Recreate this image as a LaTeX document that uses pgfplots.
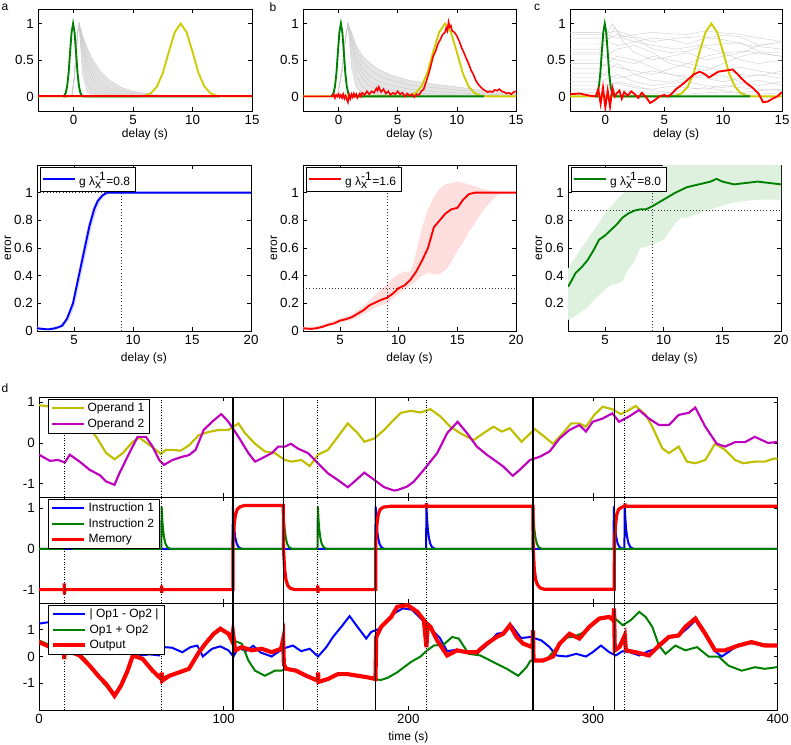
\documentclass[border=0pt]{standalone}
\usepackage{fontspec}
\setmainfont{Liberation Sans}
\usepackage{pgfplots}
\pgfplotsset{compat=1.18}
\definecolor{mblue}{rgb}{0,0,1}
\definecolor{mgreen}{rgb}{0,0.5,0}
\definecolor{mred}{rgb}{1,0,0}
\definecolor{myel}{rgb}{0.8,0.8,0}
\definecolor{mol}{rgb}{0.75,0.75,0}
\definecolor{mpur}{rgb}{0.75,0,0.75}
\definecolor{mgrey}{rgb}{0.8,0.8,0.8}
\definecolor{mgreyfill}{rgb}{0.9,0.9,0.9}
\definecolor{bandb}{rgb}{0.85,0.85,1}
\definecolor{bandr}{rgb}{1,0.87,0.87}
\definecolor{bandg}{rgb}{0.87,0.94,0.87}
\pgfplotsset{
  mstyle/.style={scale only axis, anchor=south west, tick align=inside, major tick length=3pt,
    /pgf/number format/assume math mode=true,
    tick label style={font=\fontsize{10}{12}\selectfont},
    tick style={black,line width=0.4pt}, axis line style={line width=0.5pt},
    legend cell align=left,
    legend style={at={(0.012,0.985)},anchor=north west,draw=black,fill=white,inner xsep=2pt,inner ysep=1pt},
    legend image code/.code={\draw[##1] (0pt,0pt) -- (24pt,0pt);}},
  gl/.style={mgrey, line width=0.3pt, forget plot},
  dl/.style={black!80, line width=0.6pt, dash pattern=on 0.6pt off 1.8pt, forget plot},
  vs/.style={black, line width=0.9pt, forget plot},
  vd/.style={black, line width=0.7pt, dash pattern=on 0.7pt off 1.2pt, forget plot},
}
\newcommand{\vlines}[2]{%
  \addplot[vs] coordinates {(105,#1)(105,#2)};
  \addplot[vs] coordinates {(132.3,#1)(132.3,#2)};
  \addplot[vs] coordinates {(182.3,#1)(182.3,#2)};
  \addplot[vs] coordinates {(267.5,#1)(267.5,#2)};
  \addplot[vs] coordinates {(311.5,#1)(311.5,#2)};
  \addplot[vd] coordinates {(13.7,#1)(13.7,#2)};
  \addplot[vd] coordinates {(66.4,#1)(66.4,#2)};
  \addplot[vd] coordinates {(151,#1)(151,#2)};
  \addplot[vd] coordinates {(209.8,#1)(209.8,#2)};
  \addplot[vd] coordinates {(317.2,#1)(317.2,#2)};
}
\begin{document}
\fontsize{9}{10.8}\selectfont
\begin{tikzpicture}
\path[use as bounding box] (0,0) rectangle (593.25pt,558pt);
\node at (3.75pt,552.75pt) {a};
\node at (204.75pt,552.75pt) {b};
\node at (402.75pt,552.75pt) {c};
\node at (3.75pt,267pt) {d};

% ---------------- top row a
\begin{axis}[mstyle, at={(28.5pt,474.75pt)}, width=160.5pt, height=76.5pt,
  xmin=-3,xmax=15,ymin=-0.2,ymax=1.2, xtick={0,5,10,15}, ytick={0,0.5,1}, xlabel={delay (s)}, xlabel style={yshift=3pt}]
\addplot[fill=mgreyfill, draw=none, forget plot] coordinates {(-0.15,0)(0.05,0.25)(0.2,0.6)(0.35,0.9)(0.45,1)(0.75,0.84)(1.15,0.66)(1.65,0.49)(2.25,0.35)(2.95,0.23)(3.95,0.128)(4.95,0.071)(6.45,0.029)(7.95,0.012)(9,0)(2.25,0)(1.65,0.008)(1.15,0.06)(0.75,0.3)(0.45,1)};
\addplot[gl] coordinates {(-3,0)(-0.15,0)(0.05,0.25)(0.2,0.6)(0.35,0.9)(0.45,1)(0.75,0.3)(1.15,0.06)(1.65,0.008)(2.25,0)(15,0)};
\addplot[gl] coordinates {(-0.15,0)(0.05,0.25)(0.2,0.6)(0.35,0.9)(0.45,1)(0.75,0.47)(1.15,0.17)(1.65,0.05)(2.25,0.011)(2.95,0.002)(3.95,0)};
\addplot[gl] coordinates {(-0.15,0)(0.05,0.25)(0.2,0.6)(0.35,0.9)(0.45,1)(0.75,0.58)(1.15,0.28)(1.65,0.11)(2.25,0.038)(2.95,0.011)(3.95,0.002)(4.95,0)};
\addplot[gl] coordinates {(-0.15,0)(0.05,0.25)(0.2,0.6)(0.35,0.9)(0.45,1)(0.75,0.65)(1.15,0.37)(1.65,0.18)(2.25,0.076)(2.95,0.028)(3.95,0.007)(4.95,0.002)(6.45,0)};
\addplot[gl] coordinates {(-0.15,0)(0.05,0.25)(0.2,0.6)(0.35,0.9)(0.45,1)(0.75,0.70)(1.15,0.44)(1.65,0.24)(2.25,0.12)(2.95,0.053)(3.95,0.016)(4.95,0.005)(6.45,0)};
\addplot[gl] coordinates {(-0.15,0)(0.05,0.25)(0.2,0.6)(0.35,0.9)(0.45,1)(0.75,0.74)(1.15,0.50)(1.65,0.30)(2.25,0.165)(2.95,0.082)(3.95,0.03)(4.95,0.011)(6.45,0.002)(7.95,0)};
\addplot[gl] coordinates {(-0.15,0)(0.05,0.25)(0.2,0.6)(0.35,0.9)(0.45,1)(0.75,0.78)(1.15,0.56)(1.65,0.37)(2.25,0.22)(2.95,0.125)(3.95,0.054)(4.95,0.024)(6.45,0.007)(7.95,0.002)(9,0)};
\addplot[gl] coordinates {(-0.15,0)(0.05,0.25)(0.2,0.6)(0.35,0.9)(0.45,1)(0.75,0.81)(1.15,0.62)(1.65,0.44)(2.25,0.29)(2.95,0.18)(3.95,0.089)(4.95,0.045)(6.45,0.016)(7.95,0.006)(9,0)};
\addplot[gl] coordinates {(-0.15,0)(0.05,0.25)(0.2,0.6)(0.35,0.9)(0.45,1)(0.75,0.84)(1.15,0.66)(1.65,0.49)(2.25,0.35)(2.95,0.23)(3.95,0.128)(4.95,0.071)(6.45,0.029)(7.95,0.012)(9,0)};
\addplot[myel, line width=1.4pt] coordinates {(-3,0)(5.5,0)(6,0.011)(6.5,0.044)(7,0.135)(7.5,0.32)(8,0.61)(8.5,0.88)(9,1)(9.5,0.88)(10,0.61)(10.5,0.32)(11,0.135)(11.5,0.044)(12,0.011)(12.5,0)(15,0)};
\addplot[mgreen, line width=1.4pt] coordinates {(-0.6,0)(-0.8,0)(-0.8,0.011)(-0.675,0.044)(-0.55,0.135)(-0.425,0.32)(-0.3,0.61)(-0.175,0.88)(-0.05,1)(0.075,0.88)(0.2,0.61)(0.325,0.32)(0.45,0.135)(0.575,0.044)(0.7,0.011)(0.8,0)(12.3,0)};
\addplot[mred, line width=1.4pt] coordinates {(-3,0)(15,0)};
\end{axis}

% ---------------- top row b
\begin{axis}[mstyle, at={(227.25pt,474.75pt)}, width=159.75pt, height=76.5pt,
  xmin=-3,xmax=15,ymin=-0.2,ymax=1.2, xtick={0,5,10,15}, ytick={0,0.5,1}, xlabel={delay (s)}, xlabel style={yshift=3pt}]
\addplot[fill=mgreyfill, draw=none, forget plot] coordinates {(-0.1,0)(0.3,0.35)(0.55,0.75)(0.8,1)(1.1,0.88)(1.5,0.7)(2,0.56)(2.7,0.45)(3.5,0.36)(4.5,0.29)(6,0.22)(8,0.17)(10,0.13)(12.5,0.08)(15,0.04)(15,0)(2.7,0.0)(2,0.04)(1.5,0.12)(1.1,0.4)(0.8,1)};
\addplot[gl] coordinates {(-3,0)(-0.1,0)(0.3,0.35)(0.55,0.75)(0.8,1)(1.1,0.4)(1.5,0.12)(2,0.04)(2.7,0.01)(3.5,0)(15,0)};
\addplot[gl] coordinates {(-0.1,0)(0.3,0.35)(0.55,0.75)(0.8,1)(1.1,0.6)(1.5,0.3)(2,0.14)(2.7,0.06)(3.5,0.03)(4.5,0.015)(6,0.005)(8,0)};
\addplot[gl] coordinates {(-0.1,0)(0.3,0.35)(0.55,0.75)(0.8,1)(1.1,0.7)(1.5,0.42)(2,0.25)(2.7,0.14)(3.5,0.08)(4.5,0.05)(6,0.03)(8,0.015)(10,0.01)(12.5,0.005)(15,0)};
\addplot[gl] coordinates {(-0.1,0)(0.3,0.35)(0.55,0.75)(0.8,1)(1.1,0.76)(1.5,0.5)(2,0.32)(2.7,0.2)(3.5,0.13)(4.5,0.09)(6,0.055)(8,0.035)(10,0.02)(12.5,0.012)(15,0.006)};
\addplot[gl] coordinates {(-0.1,0)(0.3,0.35)(0.55,0.75)(0.8,1)(1.1,0.8)(1.5,0.56)(2,0.39)(2.7,0.27)(3.5,0.2)(4.5,0.15)(6,0.1)(8,0.07)(10,0.05)(12.5,0.03)(15,0.015)};
\addplot[gl] coordinates {(-0.1,0)(0.3,0.35)(0.55,0.75)(0.8,1)(1.1,0.85)(1.5,0.64)(2,0.48)(2.7,0.36)(3.5,0.28)(4.5,0.22)(6,0.16)(8,0.12)(10,0.09)(12.5,0.055)(15,0.03)};
\addplot[gl] coordinates {(-0.1,0)(0.3,0.35)(0.55,0.75)(0.8,1)(1.1,0.88)(1.5,0.7)(2,0.56)(2.7,0.45)(3.5,0.36)(4.5,0.29)(6,0.22)(8,0.17)(10,0.13)(12.5,0.08)(15,0.04)};
\addplot[myel, line width=1.4pt] coordinates {(-3,0)(5.5,0)(6,0.011)(6.5,0.044)(7,0.135)(7.5,0.32)(8,0.61)(8.5,0.88)(9,1)(9.5,0.88)(10,0.61)(10.5,0.32)(11,0.135)(11.5,0.044)(12,0.011)(12.5,0)(15,0)};
\addplot[mgreen, line width=1.4pt] coordinates {(-0.6,0)(-0.55,0.011)(-0.425,0.044)(-0.3,0.135)(-0.175,0.32)(-0.05,0.61)(0.075,0.88)(0.2,1)(0.325,0.88)(0.45,0.61)(0.575,0.32)(0.7,0.135)(0.825,0.044)(0.95,0.011)(1.05,0)(12.3,0)};
\addplot[mred, line width=1.2pt] coordinates {(-3,0)(-0.5,0)(-0.4,0.03)(-0.3,-0.02)(-0.2,0.02)(-0.1,0.0)(0,0.03)(0.1,-0.01)(0.2,0.02)(0.3,-0.02)(0.4,0.03)(0.5,-0.03)(0.6,0.01)(0.7,-0.04)(0.8,-0.08)(0.9,0.02)(1.0,-0.03)(1.1,0.03)(1.2,-0.01)(1.3,0.04)(1.4,0.0)(1.5,0.03)(1.6,-0.02)(1.8,0.04)(1.9,0.0)(2.0,0.05)(2.2,0.02)(2.4,0.07)(2.6,0.03)(2.8,0.07)(3.0,0.05)(3.2,0.11)(3.3,0.08)(3.4,0.13)(3.6,0.06)(3.8,0.1)(4.0,0.04)(4.2,0.07)(4.4,0.02)(4.6,0.05)(4.8,0.03)(5.0,0.07)(5.2,0.03)(5.4,0.05)(5.6,0.0)(5.8,0.04)(6.0,0.01)(6.2,0.03)(6.4,-0.01)(6.6,0.03)(6.8,0.02)(7.0,0.07)(7.2,0.1)(7.4,0.2)(7.6,0.3)(7.8,0.42)(8.0,0.55)(8.2,0.62)(8.4,0.72)(8.6,0.78)(8.8,0.85)(9.0,0.88)(9.1,0.94)(9.2,0.9)(9.3,1.02)(9.4,0.95)(9.5,0.97)(9.6,0.9)(9.8,0.88)(10.0,0.83)(10.2,0.76)(10.4,0.67)(10.6,0.6)(10.8,0.52)(11.0,0.45)(11.2,0.36)(11.4,0.3)(11.6,0.22)(11.8,0.17)(12.0,0.13)(12.2,0.1)(12.4,0.08)(12.6,0.06)(12.8,0.07)(13.0,0.06)(13.2,0.09)(13.4,0.08)(13.6,0.1)(13.8,0.07)(14.0,0.06)(14.2,0.04)(14.4,0.05)(14.6,0.03)(14.8,0.06)(15,0.07)};
\end{axis}

% ---------------- top row c
\begin{axis}[mstyle, at={(427.5pt,474.75pt)}, width=159pt, height=76.5pt,
  xmin=-3,xmax=15,ymin=-0.2,ymax=1.2, xtick={0,5,10,15}, ytick={0,0.5,1}, xlabel={delay (s)}, xlabel style={yshift=3pt}]
\addplot[gl] coordinates {(-3,0.88)(-0.5,0.88)(1,0.8)(2.5,0.85)(4,0.88)(5.5,0.86)(7,0.85)(8.5,0.9)(10,0.87)(11.5,0.85)(13,0.8)(14,0.78)(15,0.75)};
\addplot[gl] coordinates {(-3,0.8)(-0.5,0.8)(1,0.7)(2.5,0.75)(4,0.8)(5.5,0.78)(7,0.72)(8.5,0.8)(10,0.84)(11.5,0.82)(13,0.7)(14,0.72)(15,0.72)};
\addplot[gl] coordinates {(-3,0.72)(-0.5,0.72)(1,0.85)(2.5,0.8)(4,0.65)(5.5,0.6)(7,0.62)(8.5,0.7)(10,0.72)(11.5,0.74)(13,0.62)(14,0.6)(15,0.6)};
\addplot[gl] coordinates {(-3,0.65)(-0.5,0.65)(0.6,1)(1.5,0.75)(2.5,0.6)(4,0.5)(5.5,0.55)(7,0.6)(8.5,0.5)(10,0.55)(11.5,0.6)(13,0.7)(15,0.75)};
\addplot[gl] coordinates {(-3,0.58)(-0.5,0.58)(1,0.5)(2.5,0.45)(4,0.55)(5.5,0.5)(7,0.45)(8.5,0.55)(10,0.6)(11.5,0.5)(13,0.45)(15,0.5)};
\addplot[gl] coordinates {(-3,0.5)(-0.5,0.5)(1,0.65)(2.5,0.7)(4,0.6)(5.5,0.45)(7,0.4)(8.5,0.35)(10,0.45)(11.5,0.55)(13,0.6)(15,0.55)};
\addplot[gl] coordinates {(-3,0.45)(-0.5,0.45)(1,0.4)(2.5,0.35)(4,0.3)(5.5,0.38)(7,0.45)(8.5,0.4)(10,0.35)(11.5,0.4)(13,0.35)(15,0.3)};
\addplot[gl] coordinates {(-3,0.38)(-0.5,0.38)(1,0.55)(2.5,0.5)(4,0.4)(5.5,0.3)(7,0.25)(8.5,0.3)(10,0.35)(11.5,0.3)(13,0.28)(15,0.35)};
\addplot[gl] coordinates {(-3,0.32)(-0.5,0.32)(1,0.25)(2.5,0.3)(4,0.35)(5.5,0.3)(7,0.28)(8.5,0.25)(10,0.2)(11.5,0.25)(13,0.3)(15,0.25)};
\addplot[gl] coordinates {(-3,0.26)(-0.5,0.26)(1,0.45)(2.5,0.3)(4,0.22)(5.5,0.2)(7,0.25)(8.5,0.3)(10,0.28)(11.5,0.2)(13,0.15)(15,0.2)};
\addplot[gl] coordinates {(-3,0.2)(-0.5,0.2)(1,0.3)(2.5,0.2)(4,0.15)(5.5,0.18)(7,0.2)(8.5,0.15)(10,0.12)(11.5,0.18)(13,0.22)(15,0.15)};
\addplot[gl] coordinates {(-3,0.15)(-0.5,0.15)(1,0.18)(2.5,0.12)(4,0.1)(5.5,0.14)(7,0.12)(8.5,0.1)(10,0.15)(11.5,0.12)(13,0.1)(15,0.08)};
\addplot[gl] coordinates {(-3,0.1)(-0.5,0.1)(1,0.2)(2.5,0.15)(4,0.08)(5.5,0.05)(7,0.1)(8.5,0.12)(10,0.08)(11.5,0.05)(13,0.08)(15,0.1)};
\addplot[gl] coordinates {(-3,0.05)(-0.5,0.05)(1,0.1)(2.5,0.06)(4,0.04)(5.5,0.05)(7,0.03)(8.5,0.05)(10,0.06)(11.5,0.04)(13,0.03)(15,0.05)};
\addplot[gl] coordinates {(-3,0.6)(-0.5,0.6)(0.3,0.8)(0.8,0.95)(1.5,0.8)(2.5,0.75)(4,0.7)(6,0.65)(8,0.7)(10,0.6)(12,0.62)(15,0.55)};
\addplot[gl] coordinates {(-3,0.85)(-0.5,0.85)(1,0.9)(2.5,0.82)(4,0.75)(6,0.8)(8,0.82)(10,0.78)(12,0.7)(15,0.65)};
\addplot[myel, line width=1.4pt] coordinates {(-3,0)(5.5,0)(6,0.011)(6.5,0.044)(7,0.135)(7.5,0.32)(8,0.61)(8.5,0.88)(9,1)(9.5,0.88)(10,0.61)(10.5,0.32)(11,0.135)(11.5,0.044)(12,0.011)(12.5,0)(15,0)};
\addplot[mgreen, line width=1.4pt] coordinates {(-0.6,0)(-0.8,0)(-0.8,0.011)(-0.675,0.044)(-0.55,0.135)(-0.425,0.32)(-0.3,0.61)(-0.175,0.88)(-0.05,1)(0.075,0.88)(0.2,0.61)(0.325,0.32)(0.45,0.135)(0.575,0.044)(0.7,0.011)(0.8,0)(12.3,0)};
\addplot[mred, line width=1.4pt] coordinates {(-3,0.03)(-2.2,0.04)(-1.3,0.01)(-0.8,0.0)(-0.6,0.1)(-0.4,-0.1)(-0.2,0.12)(0,-0.15)(0.2,0.08)(0.4,-0.14)(0.6,0.12)(0.8,0.0)(1.0,0.05)(1.2,0.08)(1.4,-0.03)(1.6,0.06)(1.9,0.01)(2.2,0.07)(2.5,0.03)(2.8,-0.02)(3.1,0.05)(3.5,-0.02)(3.8,-0.09)(4.2,-0.05)(4.6,0.0)(5,0.02)(5.3,0.0)(5.6,0.03)(6,0.1)(6.5,0.16)(7,0.23)(7.5,0.3)(8,0.34)(8.4,0.31)(8.8,0.26)(9.2,0.3)(9.6,0.34)(10,0.35)(10.4,0.36)(10.8,0.37)(11.2,0.31)(11.6,0.24)(12,0.18)(12.5,0.12)(13,0.04)(13.4,-0.08)(13.8,-0.07)(14.2,-0.03)(14.6,0.0)(15,0.06)};
\end{axis}

% ---------------- error a
\begin{axis}[mstyle, at={(27.75pt,309.75pt)}, width=160.5pt, height=124.5pt,
  xmin=1.85,xmax=20,ymin=0,ymax=1.2, xtick={5,10,15,20}, ytick={0,0.2,0.4,0.6,0.8,1}, xlabel={delay (s)}, ylabel={error}, ylabel shift=-4pt]
\addplot[fill=bandb, draw=none, forget plot] coordinates {(1.85,0.03)(2.8,0.02)(3.8,0.04)(4.3,0.09)(4.8,0.2)(5.3,0.4)(5.75,0.6)(6.2,0.78)(6.6,0.9)(7,0.96)(7.5,1.0)(20,1.0)(20,0.99)(7.8,0.99)(7.4,0.96)(7,0.9)(6.5,0.76)(6.05,0.57)(5.55,0.38)(5.05,0.18)(4.55,0.08)(4.1,0.03)(3.3,0.008)(1.85,0.01)};
\addplot[dl] coordinates {(9,0)(9,1.2)};
\addplot[dl] coordinates {(1.85,1)(20,1)};
\addplot[mblue, line width=1.4pt] coordinates {(1.85,0.02)(2.3,0.015)(2.8,0.012)(3.3,0.018)(3.7,0.028)(4,0.04)(4.4,0.09)(4.9,0.2)(5.4,0.4)(5.85,0.58)(6.3,0.76)(6.7,0.88)(7,0.94)(7.4,0.98)(7.8,1.0)(20,1.0)};
\addlegendentry{g λ$^{\textrm{-1}}_{\textrm{x}}$=0.8}
\end{axis}

% ---------------- error b
\begin{axis}[mstyle, at={(227.25pt,309.75pt)}, width=159.75pt, height=124.5pt,
  xmin=1.85,xmax=20,ymin=0,ymax=1.2, xtick={5,10,15,20}, ytick={0,0.2,0.4,0.6,0.8,1}, xlabel={delay (s)}, ylabel={error}, ylabel shift=-4pt]
\addplot[fill=bandr, draw=none, forget plot] coordinates {(1.85,0.03)(3,0.035)(4,0.06)(5,0.09)(6,0.12)(7,0.18)(8,0.26)(9,0.34)(9.5,0.38)(10,0.41)(10.5,0.43)(11,0.43)(11.3,0.5)(11.7,0.65)(12,0.75)(12.5,0.88)(13,0.97)(13.5,1.03)(14,1.06)(15,1.08)(16,1.06)(17,1.03)(18,1.01)(20,1.0)(18.5,0.99)(18,0.95)(17.5,0.9)(17,0.85)(16.5,0.78)(16,0.72)(15.5,0.64)(15,0.58)(14.5,0.5)(14,0.44)(13.5,0.41)(13,0.41)(12.5,0.42)(12,0.4)(11.5,0.36)(11,0.33)(10.5,0.3)(10,0.27)(9,0.2)(8,0.17)(7,0.12)(6,0.08)(5,0.06)(4,0.035)(3,0.01)(1.85,0.01)};
\addplot[dl] coordinates {(9,0)(9,1.2)};
\addplot[dl] coordinates {(1.85,0.31)(20,0.31)};
\addplot[mred, line width=1.4pt] coordinates {(1.85,0.02)(2.5,0.015)(3,0.02)(3.5,0.03)(4,0.045)(4.5,0.055)(5,0.075)(5.5,0.085)(6,0.1)(6.5,0.125)(7,0.15)(7.5,0.185)(8,0.205)(8.5,0.225)(9,0.24)(9.5,0.27)(10,0.31)(10.5,0.33)(11,0.37)(11.5,0.43)(12,0.51)(12.5,0.6)(13,0.75)(13.5,0.8)(14,0.85)(14.5,0.88)(15,0.89)(15.5,0.95)(16,0.99)(16.5,1.0)(20,1.0)};
\addlegendentry{g λ$^{\textrm{-1}}_{\textrm{x}}$=1.6}
\end{axis}

% ---------------- error c
\begin{axis}[mstyle, at={(426pt,309.75pt)}, width=159.75pt, height=124.5pt,
  xmin=1.85,xmax=20,ymin=0,ymax=1.2, xtick={5,10,15,20}, ytick={0.2,0.4,0.6,0.8,1}, xlabel={delay (s)}, ylabel={error}, ylabel shift=-4pt]
\addplot[fill=bandg, draw=none, forget plot] coordinates {(1.85,0.45)(3,0.6)(4,0.72)(5,0.85)(6,0.95)(7,1.03)(8,1.1)(9,1.15)(10,1.2)(20,1.2)(20,0.95)(18,0.95)(16,0.93)(14,0.88)(13,0.85)(12,0.82)(11.5,0.82)(11,0.78)(10,0.66)(9.5,0.64)(9,0.62)(8,0.6)(7.5,0.5)(7,0.45)(6.5,0.36)(6,0.34)(5.5,0.33)(5,0.3)(4,0.22)(3.5,0.17)(3,0.14)(2.5,0.11)(1.85,0.08)};
\addplot[dl] coordinates {(9,0)(9,1.2)};
\addplot[dl] coordinates {(1.85,0.87)(20,0.87)};
\addplot[mgreen, line width=1.4pt] coordinates {(1.85,0.32)(2,0.34)(2.5,0.42)(3,0.46)(3.5,0.51)(4,0.58)(4.5,0.66)(5,0.69)(5.5,0.73)(6,0.77)(6.5,0.82)(7,0.85)(7.5,0.87)(8,0.88)(8.5,0.88)(9,0.9)(10,0.95)(11,1.0)(12,1.04)(13,1.06)(14,1.08)(14.5,1.1)(15,1.08)(16,1.06)(17,1.07)(18,1.08)(19,1.07)(20,1.06)};
\addlegendentry{g λ$^{\textrm{-1}}_{\textrm{x}}$=8.0}
\end{axis}

% ---------------- d top
\begin{axis}[mstyle, at={(29.25pt,185.25pt)}, width=554pt, height=75pt,
  xmin=0,xmax=400,ymin=-1.33,ymax=1.13, xtick={0,100,200,300,400}, xticklabels={}, ytick={-1,0,1}]
\addplot[mol, line width=1.6pt] coordinates {(0,0.93)(5,0.9)(10,0.85)(15,0.78)(20,0.65)(25.6,0.44)(31,0.15)(36.4,-0.25)(40.9,-0.4)(45.4,-0.25)(50.8,0.03)(54.3,0.13)(58.8,-0.02)(63.3,-0.17)(66,-0.27)(68.7,-0.17)(72.2,-0.17)(76.7,-0.19)(81.2,-0.06)(86.5,0.19)(91.9,0.27)(97.3,0.32)(102.6,0.32)(108,0.48)(111.6,0.24)(117,-0.02)(122.3,-0.21)(127.7,-0.25)(133.2,-0.42)(136.7,-0.46)(142.1,-0.42)(146.6,-0.57)(151.1,-0.29)(156.5,-0.17)(161.8,0.15)(167.2,0.48)(172.6,0.24)(176.2,0.03)(181.6,0.11)(186.9,0.32)(192.3,0.58)(195.9,0.74)(201.3,0.79)(206.6,0.75)(212,0.83)(217.4,0.65)(222.7,0.4)(228.1,0.24)(235.3,0.07)(240.7,0.24)(246.1,0.4)(250.6,0.28)(255,0.36)(261.3,0.03)(268.5,0.34)(273.8,0.15)(278.3,-0.02)(283.7,0.24)(288.2,0.48)(292.6,0.48)(296.2,0.4)(300.7,0.69)(305.2,0.89)(310.5,0.83)(315,0.71)(319.5,0.81)(323.1,0.91)(328.5,0.69)(332.1,0.4)(337.5,-0.13)(341.1,-0.25)(346.4,-0.09)(350.9,-0.46)(355.4,-0.5)(360.8,-0.42)(366.1,-0.02)(371.5,-0.17)(376.9,-0.42)(381.4,-0.5)(387.6,-0.46)(393,-0.46)(398.4,-0.38)(400,-0.4)};
\addlegendentry{Operand 1}
\addplot[mpur, line width=1.6pt] coordinates {(0,-0.29)(5.9,-0.44)(10.4,-0.42)(14,-0.48)(16.7,-0.29)(22,-0.46)(27.4,-0.66)(32.8,-0.79)(36.4,-0.95)(40.9,-1.03)(43.5,-0.75)(48.9,-0.25)(53.4,0.15)(57.9,0.15)(61.5,-0.09)(65.1,-0.42)(67.7,-0.54)(72.2,-0.42)(77.6,-0.34)(81.2,-0.3)(84.8,-0.17)(89.2,0.32)(93.7,0.52)(98.7,0.71)(102.6,0.52)(108,0.15)(113.4,-0.25)(117,-0.46)(120.6,-0.38)(126,-0.25)(129.6,-0.09)(133.2,-0.09)(136.4,-0.02)(140.3,-0.14)(145.7,-0.25)(150.2,-0.46)(156.5,-0.75)(161.8,-0.91)(167.2,-1.09)(170.8,-0.95)(176.2,-0.73)(181.6,-0.91)(186.9,-1.09)(192.3,-1.17)(194,-1.16)(199.5,-1.07)(203,-0.95)(208.4,-0.66)(215.6,-0.25)(221,0.24)(226.7,0.52)(231.8,0.24)(237.1,-0.09)(242.5,-0.29)(247.8,-0.46)(251.4,-0.58)(256.5,-0.81)(260.4,-0.66)(265.8,-0.42)(271.2,-0.34)(276.5,-0.21)(281.9,0.11)(287.3,0.32)(292.6,0.44)(296.2,0.28)(299.8,0.52)(305.2,0.6)(310.5,0.73)(314.1,0.52)(319.5,0.65)(324.9,0.81)(330.3,0.6)(335.7,0.44)(341.1,0.44)(346.4,0.69)(351.8,0.74)(355.4,0.87)(360.8,0.4)(367,-0.02)(371.5,-0.09)(376.9,0.02)(382.3,0.02)(387.6,0.15)(394.8,0)(399.3,0.02)(400,0.02)};
\addlegendentry{Operand 2}
\vlines{-1.33}{1.13}
\end{axis}

% ---------------- d middle
\begin{axis}[mstyle, at={(29.25pt,105.75pt)}, width=554pt, height=79.5pt,
  xmin=0,xmax=400,ymin=-1.33,ymax=1.28, xtick={0,100,200,300,400}, xticklabels={}, ytick={-1,0,1}]
\addplot[mblue, line width=1.5pt] coordinates {(0,0)(104.8,0)(105,1.05)(105.4,0.7)(105.8,0.47)(106.3,0.29)(107,0.14)(108,0.05)(109,0.02)(110,0)(182.1,0)(182.3,1.05)(182.7,0.7)(183.1,0.47)(183.6,0.29)(184.3,0.14)(185.3,0.05)(186.3,0.02)(187.3,0)(209.6,0)(209.8,1.05)(210.2,0.7)(210.6,0.47)(211.1,0.29)(211.8,0.14)(212.8,0.05)(213.8,0.02)(214.8,0)(311.1,0)(311.3,1.05)(311.7,0.7)(312.1,0.47)(312.6,0.29)(313.3,0.14)(314.3,0.05)(315.3,0.02)(317,0)(317.2,1.05)(317.6,0.7)(318,0.47)(318.5,0.29)(319.2,0.14)(320.2,0.05)(321.2,0.02)(322.2,0)(400,0)};
\addlegendentry{Instruction 1}
\addplot[mgreen, line width=1.5pt] coordinates {(0,0)(13.5,0)(13.7,1.05)(14.1,0.7)(14.5,0.47)(15,0.29)(15.7,0.14)(16.7,0.05)(17.7,0.02)(18.7,0)(66.2,0)(66.4,1.05)(66.8,0.7)(67.2,0.47)(67.7,0.29)(68.4,0.14)(69.4,0.05)(70.4,0.02)(71.4,0)(132.1,0)(132.3,1.05)(132.7,0.7)(133.1,0.47)(133.6,0.29)(134.3,0.14)(135.3,0.05)(136.3,0.02)(137.3,0)(150.8,0)(151,1.05)(151.4,0.7)(151.8,0.47)(152.3,0.29)(153,0.14)(154,0.05)(155,0.02)(156,0)(267.3,0)(267.5,1.05)(267.9,0.7)(268.3,0.47)(268.8,0.29)(269.5,0.14)(270.5,0.05)(271.5,0.02)(272.5,0)(400,0)};
\addlegendentry{Instruction 2}
\addplot[mred, line width=2.4pt] coordinates {(0,-1)(13.6,-1)(13.7,-0.85)(13.8,-1.12)(13.9,-1)(66.3,-1)(66.4,-0.9)(66.5,-1.08)(66.6,-1)(105,-1)(105.1,0.2)(105.7,0.6)(106.4,0.85)(107.4,0.98)(109,1.04)(111,1.07)(132.3,1.07)(132.4,0)(133,-0.5)(133.7,-0.75)(134.7,-0.9)(136.2,-0.97)(138.5,-1.0)(150.9,-1)(151,-0.9)(151.1,-1.08)(151.2,-1)(182.3,-1)(182.4,0.2)(183,0.6)(183.7,0.85)(184.7,0.97)(186.4,1.03)(190,1.05)(209.7,1.05)(209.8,1.13)(209.9,1.0)(210,1.05)(267.5,1.05)(267.6,0)(268.2,-0.5)(268.9,-0.75)(269.9,-0.88)(271.4,-0.96)(273.5,-0.99)(311.5,-0.99)(311.6,0.2)(312.2,0.6)(312.9,0.85)(313.9,0.98)(315.6,1.03)(317.2,1.05)(317.3,1.12)(317.4,1.05)(400,1.05)};
\addlegendentry{Memory}
\vlines{-1.33}{1.28}
\end{axis}

% ---------------- d bottom
\begin{axis}[mstyle, at={(29.25pt,25.5pt)}, width=554pt, height=80.25pt,
  xmin=0,xmax=400,ymin=-2,ymax=2, xtick={0,100,200,300,400}, ytick={-1,0,1}, xlabel={time (s)}]
\addplot[mblue, line width=1.5pt] coordinates {(0,1.23)(5,1.28)(10,1.27)(14,1.28)(20,1.05)(25,1.0)(30,0.9)(35,0.75)(40,0.63)(45,0.45)(48,0.15)(52,0.1)(56,0.05)(60,0.08)(65,0.04)(67.7,0.35)(72,0.33)(77.6,0.16)(82,0.35)(85.7,0.41)(88.7,0.0)(93.7,0.29)(98.2,0.38)(102.6,0.23)(105.3,0.0)(108,0.33)(112,0.2)(116,0.4)(120,0.15)(126,0.0)(128,0.1)(132.3,0.3)(137.5,0.41)(142,0.2)(146.6,0.29)(151.1,0.0)(155.6,0.35)(159.2,0.73)(163.7,1.11)(168.2,1.51)(171.8,1.17)(177.2,0.67)(179.9,0.92)(184.4,1.04)(188,1.3)(192,1.6)(197,1.8)(202,1.75)(207,1.4)(212,1.05)(217,0.7)(221,0.2)(226,0.25)(232,0.15)(237,0.1)(243,0.45)(248,0.85)(252,0.9)(256,1.15)(261,0.69)(266.2,0.73)(272.1,0.6)(276.5,0.35)(280.1,0.04)(285.5,0.0)(290.9,0.1)(296.2,0.0)(299.8,0.16)(304.3,0.41)(308.8,0.16)(312.3,0.04)(316,0.2)(320,0.16)(325,0.04)(330,0.2)(335,0.3)(341,0.7)(346,0.75)(351,1.05)(355.4,1.35)(360.8,0.8)(366,0.2)(369.7,0.0)(373,0.15)(378,0.4)(385,0.5)(393,0.45)(400,0.4)};
\addlegendentry{| Op1 - Op2 |}
\addplot[mgreen, line width=1.5pt] coordinates {(0,0.6)(5,0.45)(10,0.4)(14,0.3)(20,0.2)(25,-0.1)(30,-0.55)(35,-1.0)(40.9,-1.45)(44.4,-1.1)(48,-0.5)(50.8,0.0)(56,-0.05)(61.5,-0.5)(66,-0.8)(70.6,-0.7)(76,-0.6)(81,-0.45)(86.6,0.1)(90,0.45)(94.6,0.8)(98.2,1.0)(102.6,0.85)(105.3,0.6)(109.8,0.48)(113.4,-0.15)(117,-0.53)(122.3,-0.72)(127.7,-0.53)(131.3,-0.53)(134,-0.45)(139,-0.55)(144.7,-0.72)(150.9,-0.9)(156.5,-0.84)(161.8,-0.66)(167.2,-0.66)(172.6,-0.72)(178,-0.78)(182,-0.84)(185,-0.88)(188.7,-0.8)(194,-0.59)(201.3,-0.21)(206.6,0.0)(210.2,0.23)(213.8,0.41)(219.2,0.45)(223.7,0.73)(227.3,0.67)(232.7,0.1)(239,0.04)(246.1,-0.21)(253.3,-0.46)(259.5,-0.72)(264,-0.4)(266.2,-0.15)(270,-0.15)(275,-0.1)(280,0.3)(285,0.7)(290,0.75)(295,0.9)(300,1.2)(305,1.45)(310,1.45)(312,1.42)(316.1,1.17)(320.5,1.36)(325,1.67)(328.5,1.48)(332.1,1.11)(335.7,0.41)(339.3,0.1)(344.6,0.41)(350,0.23)(356.3,0.35)(362.6,0.0)(368,0.0)(373.3,-0.34)(380.5,-0.53)(387.7,-0.4)(393,-0.46)(399.3,-0.4)(400,-0.4)};
\addlegendentry{Op1 + Op2}
\addplot[mred, line width=3.1pt] coordinates {(0,0.54)(3,0.45)(6,0.35)(10,0.3)(13.6,0.2)(13.7,-0.1)(13.9,0.3)(18,0.15)(22,0.04)(27.4,-0.34)(32.8,-0.78)(36.4,-1.03)(40.9,-1.47)(44.4,-1.09)(48,-0.53)(50.8,0.04)(56.1,-0.09)(61.5,-0.53)(66.2,-0.84)(66.4,-0.6)(66.7,-0.9)(70.6,-0.72)(76,-0.59)(81.2,-0.46)(86.6,0.16)(90.1,0.48)(94.6,0.85)(98.2,1.04)(102.6,0.85)(104.4,0.6)(105,0.9)(106.2,0.23)(109.8,0.35)(115.2,0.23)(120.6,0.29)(126,0.16)(131.1,0.29)(132.2,0.65)(132.6,-0.3)(133.9,-0.46)(139.3,-0.53)(144.7,-0.72)(150.9,-0.9)(151.1,-0.6)(151.4,-0.95)(156.5,-0.84)(161.8,-0.66)(167.2,-0.66)(172.6,-0.72)(178.1,-0.78)(182.2,-0.84)(182.6,0.73)(185.3,1.11)(190.7,1.48)(194,1.86)(199.5,1.92)(204.9,1.67)(208.4,1.36)(209.8,0.35)(210.5,1.2)(212,1.11)(215.6,0.6)(221,0.04)(226.4,0.23)(231.8,0.16)(237.1,0.16)(242.5,0.48)(247.8,0.73)(251.4,0.85)(255,1.17)(258.6,0.73)(262.2,0.48)(267.2,0.35)(267.5,0.98)(267.8,-0.15)(273,-0.15)(278.3,0.0)(281.9,0.48)(287.3,0.85)(292.6,0.67)(298,1.11)(303.4,1.42)(308.8,1.48)(311,1.36)(311.4,1.8)(311.8,0.23)(314.3,0.35)(317.2,0.79)(317.8,0.23)(323.1,0.16)(330.3,0.04)(335.7,0.41)(341.1,0.73)(346.4,0.79)(350,1.11)(355.4,1.42)(360.8,0.85)(366.1,0.23)(371.5,0.23)(378.7,0.41)(385.8,0.54)(393,0.41)(400,0.41)};
\addlegendentry{Output}
\vlines{-2}{2}
\end{axis}
\end{tikzpicture}
\end{document}
